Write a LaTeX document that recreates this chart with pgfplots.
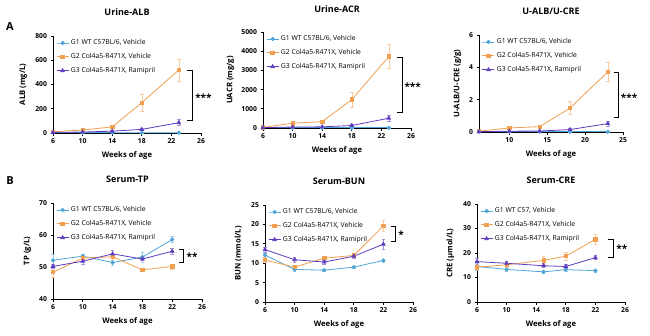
\documentclass[border=0pt]{standalone}
\usepackage{pgfplots}
\pgfplotsset{compat=1.18}
\usepackage{fontspec}
\setmainfont{Open Sans}
\definecolor{gone}{RGB}{80,165,215}
\definecolor{gtwo}{RGB}{240,160,80}
\definecolor{gthree}{RGB}{95,60,190}
\pgfplotsset{
  panel/.style={scale only axis, axis lines=left,
    x axis line style={-}, y axis line style={-},
    axis line style={line width=0.8pt},
    tick align=outside, major tick length=2.5pt, tick style={line width=0.8pt, black},
    clip=false, xmin=6, xmax=26, xtick={6,10,14,18,22,26}, ymin=0,
    scaled ticks=false,
    /pgf/number format/1000 sep={},
    /pgf/number format/assume math mode=true,
    tick label style={font=\fontsize{6.8}{7}\selectfont\bfseries},
    label style={font=\fontsize{7.7}{8}\selectfont\bfseries},
    title style={font=\fontsize{9}{10}\selectfont\bfseries, at={(axis description cs:0.5,1.18)}, anchor=center},
    xlabel={Weeks of age},
    xlabel style={at={(axis description cs:0.5,-0.23)}, anchor=center},
    legend style={draw=none, fill=none, at={(axis description cs:0.02,0.985)}, anchor=north west,
      font=\fontsize{6.8}{7}\selectfont, row sep=3.2pt, inner sep=0pt},
    legend cell align=left,
    legend image code/.code={\draw[mark repeat=2,mark phase=2] plot coordinates {(0pt,0pt) (6pt,0pt) (12pt,0pt)};},
  },
  s1/.style={color=gone, line width=0.8pt, mark=*, mark size=1.7pt,
    error bars/.cd, y dir=both, y explicit, error bar style={gone!55, line width=0.6pt},
    error mark options={rotate=90, mark size=1.8pt, gone!55, line width=0.6pt}},
  s2/.style={color=gtwo, line width=0.8pt, mark=square*, mark size=1.7pt,
    error bars/.cd, y dir=both, y explicit, error bar style={gtwo!55, line width=0.6pt},
    error mark options={rotate=90, mark size=1.8pt, gtwo!55, line width=0.6pt}},
  s3/.style={color=gthree, line width=0.8pt, mark=triangle*, mark size=2pt,
    error bars/.cd, y dir=both, y explicit, error bar style={gthree!55, line width=0.6pt},
    error mark options={rotate=90, mark size=1.8pt, gthree!55, line width=0.6pt}},
}
\newcommand{\stars}[1]{\fontsize{10}{10}\selectfont\bfseries #1}
\begin{document}
\begin{tikzpicture}
\path[use as bounding box] (0pt,0pt) rectangle (650pt,-335pt);
\node[font=\fontsize{11}{11}\selectfont\bfseries] at (10pt,-27pt) {A};
\node[font=\fontsize{11}{11}\selectfont\bfseries] at (10pt,-181pt) {B};

% Panel 1 Urine-ALB
\begin{axis}[panel, at={(53pt,-133pt)}, anchor=south west, width=148pt, height=97pt,
  title={Urine-ALB}, ymax=800, ytick={0,200,400,600,800}, ylabel={ALB (mg/L)},
  ylabel style={at={(axis description cs:-0.2,0.5)}, anchor=center}]
\addplot[s1] coordinates {(6,5) +- (0,2) (10,3) +- (0,1) (14,3) +- (0,1) (18,2) +- (0,1) (23,2) +- (0,1)};
\addplot[s2] coordinates {(6,10) +- (0,3) (10,25) +- (0,6) (14,50) +- (0,10) (18,250) +- (0,70) (23,520) +- (0,90)};
\addplot[s3] coordinates {(6,5) +- (0,2) (10,8) +- (0,3) (14,15) +- (0,5) (18,30) +- (0,8) (23,85) +- (0,25)};
\legend{G1 WT C57BL/6{,} Vehicle, G2 Col4a5-R471X{,} Vehicle, G3 Col4a5-R471X{,} Ramipril}
\draw[line width=0.8pt] (axis cs:24.1,520) -- (axis cs:24.9,520) -- (axis cs:24.9,100) -- (axis cs:24.1,100);
\node[anchor=west, inner sep=0pt] at (axis cs:25.2,290) {\stars{***}};
\end{axis}

% Panel 2 Urine-ACR
\begin{axis}[panel, at={(263pt,-128pt)}, anchor=south west, width=148pt, height=96pt,
  title={Urine-ACR}, ymax=5000, ytick={0,1000,2000,3000,4000,5000}, ylabel={UACR (mg/g)},
  ylabel style={at={(axis description cs:-0.22,0.5)}, anchor=center}]
\addplot[s1] coordinates {(6,10) +- (0,5) (10,10) +- (0,5) (14,10) +- (0,5) (18,10) +- (0,5) (23,10) +- (0,5)};
\addplot[s2] coordinates {(6,30) +- (0,10) (10,250) +- (0,50) (14,330) +- (0,60) (18,1480) +- (0,380) (23,3720) +- (0,620)};
\addplot[s3] coordinates {(6,20) +- (0,10) (10,50) +- (0,15) (14,60) +- (0,20) (18,130) +- (0,40) (23,510) +- (0,150)};
\legend{G1 WT C57BL/6{,} Vehicle, G2 Col4a5-R471X{,} Vehicle, G3 Col4a5-R471X{,} Ramipril}
\draw[line width=0.8pt] (axis cs:24.1,3700) -- (axis cs:24.8,3700) -- (axis cs:24.8,800) -- (axis cs:24.1,800);
\node[anchor=west, inner sep=0pt] at (axis cs:25.1,2150) {\stars{***}};
\end{axis}

% Panel 3 U-ALB/U-CRE
\begin{axis}[panel, at={(479pt,-132pt)}, anchor=south west, width=144pt, height=97pt,
  title={U-ALB/U-CRE}, xmax=25, xtick={10,15,20,25}, ymax=6, ytick={0,2,4,6}, ylabel={U-ALB/U-CRE (g/g)},
  ylabel style={at={(axis description cs:-0.15,0.5)}, anchor=center}]
\addplot[s1] coordinates {(6,0.01) +- (0,0.005) (10,0.01) +- (0,0.005) (14,0.01) +- (0,0.005) (18,0.01) +- (0,0.005) (23,0.01) +- (0,0.005)};
\addplot[s2] coordinates {(6,0.05) +- (0,0.02) (10,0.25) +- (0,0.05) (14,0.33) +- (0,0.05) (18,1.48) +- (0,0.4) (23,3.72) +- (0,0.6)};
\addplot[s3] coordinates {(6,0.02) +- (0,0.01) (10,0.05) +- (0,0.02) (14,0.06) +- (0,0.02) (18,0.15) +- (0,0.05) (23,0.52) +- (0,0.15)};
\legend{G1 WT C57BL/6{,} Vehicle, G2 Col4a5-R471X{,} Vehicle, G3 Col4a5-R471X{,} Ramipril}
\draw[line width=0.8pt] (axis cs:23.8,3.7) -- (axis cs:24.4,3.7) -- (axis cs:24.4,0.9) -- (axis cs:23.8,0.9);
\node[anchor=west, inner sep=0pt] at (axis cs:24.7,2.1) {\stars{***}};
\end{axis}

% Panel 4 Serum-TP
\begin{axis}[panel, at={(53pt,-299pt)}, anchor=south west, width=149pt, height=96pt,
  title={Serum-TP}, ymin=40, ymax=70, ytick={40,50,60,70}, ylabel={TP (g/L)},
  ylabel style={at={(axis description cs:-0.17,0.5)}, anchor=center}]
\addplot[s1] coordinates {(6,52.1) +- (0,2) (10,53.4) +- (0,0.5) (14,51.4) +- (0,0.8) (18,53.1) +- (0,1.5) (22,58.6) +- (0,1)};
\addplot[s2] coordinates {(6,48.4) +- (0,1.5) (10,52.8) +- (0,0.5) (14,53.2) +- (0,1) (18,49.1) +- (0,0.5) (22,50.2) +- (0,0.8)};
\addplot[s3] coordinates {(6,50.2) +- (0,0.5) (10,51.8) +- (0,0.8) (14,54.1) +- (0,1.2) (18,52.5) +- (0,0.5) (22,54.9) +- (0,1)};
\legend{G1 WT C57BL/6{,} Vehicle, G2 Col4a5-R471X{,} Vehicle, G3 Col4a5-R471X{,} Ramipril}
\draw[line width=0.8pt] (axis cs:22.9,55.5) -- (axis cs:23.5,55.5) -- (axis cs:23.5,51.5) -- (axis cs:22.9,51.5);
\node[anchor=west, inner sep=0pt] at (axis cs:23.9,53.2) {\stars{**}};
\end{axis}

% Panel 5 Serum-BUN
\begin{axis}[panel, at={(265pt,-302pt)}, anchor=south west, width=148pt, height=97pt,
  title={Serum-BUN}, ymax=25, ytick={0,5,10,15,20,25}, ylabel={BUN (mmol/L)},
  ylabel style={at={(axis description cs:-0.18,0.5)}, anchor=center}]
\addplot[s1] coordinates {(6,12.1) +- (0,0.5) (10,8.4) +- (0,0.4) (14,8.2) +- (0,0.3) (18,9.0) +- (0,0.3) (22,10.7) +- (0,0.4)};
\addplot[s2] coordinates {(6,10.8) +- (0,0.6) (10,9.0) +- (0,0.5) (14,11.3) +- (0,0.5) (18,12.0) +- (0,0.6) (22,19.6) +- (0,1.5)};
\addplot[s3] coordinates {(6,13.5) +- (0,0.7) (10,10.9) +- (0,0.6) (14,10.3) +- (0,0.5) (18,11.8) +- (0,0.5) (22,14.9) +- (0,1.2)};
\legend{G1 WT C57BL/6{,} Vehicle, G2 Col4a5-R471X{,} Vehicle, G3 Col4a5-R471X{,} Ramipril}
\draw[line width=0.8pt] (axis cs:23.0,19.5) -- (axis cs:23.6,19.5) -- (axis cs:23.6,15.5) -- (axis cs:23.0,15.5);
\node[anchor=west, inner sep=0pt] at (axis cs:24.0,17.3) {\stars{*}};
\end{axis}

% Panel 6 Serum-CRE
\begin{axis}[panel, at={(477pt,-302pt)}, anchor=south west, width=148pt, height=98pt,
  title={Serum-CRE}, ymax=40, ytick={0,10,20,30,40}, ylabel={CRE (μmol/L)},
  ylabel style={at={(axis description cs:-0.18,0.5)}, anchor=center}]
\addplot[s1] coordinates {(6,14.5) +- (0,1.5) (10,13.3) +- (0,0.6) (15,12.3) +- (0,0.6) (18,13.2) +- (0,0.8) (22,12.8) +- (0,0.5)};
\addplot[s2] coordinates {(6,14.2) +- (0,1.0) (10,15.2) +- (0,1.0) (15,17.0) +- (0,1.5) (18,18.7) +- (0,1.5) (22,25.6) +- (0,2)};
\addplot[s3] coordinates {(6,16.5) +- (0,1.5) (10,15.8) +- (0,0.8) (15,14.8) +- (0,0.8) (18,14.5) +- (0,0.8) (22,18.1) +- (0,0.8)};
\legend{G1 WT C57{,} Vehicle, G2 Col4a5-R471X{,} Vehicle, G3 Col4a5-R471X{,} Ramipril}
\draw[line width=0.8pt] (axis cs:23.7,25.5) -- (axis cs:24.4,25.5) -- (axis cs:24.4,18.3) -- (axis cs:23.7,18.3);
\node[anchor=west, inner sep=0pt] at (axis cs:24.8,21.8) {\stars{**}};
\end{axis}
\end{tikzpicture}
\end{document}
